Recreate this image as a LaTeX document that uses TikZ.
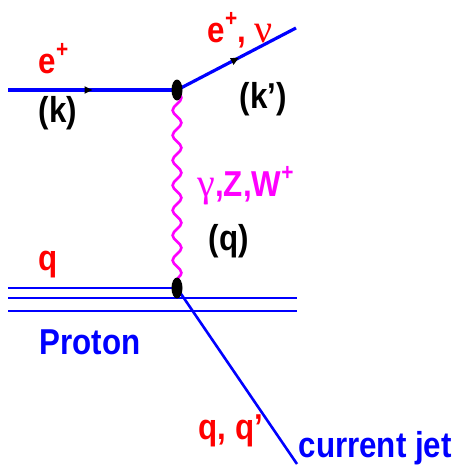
\documentclass[tikz,border=0pt]{standalone}
\usepackage{fontspec}
\setmainfont[FakeStretch=0.87]{Liberation Sans}
\newfontfamily\greekfont{Liberation Serif}
\usetikzlibrary{arrows.meta,decorations.pathmorphing,decorations.markings,shapes.geometric}
\definecolor{bosonpink}{RGB}{255,0,255}
\newcommand{\chargeup}[1]{\raisebox{0.42em}{\fontsize{12}{12}\selectfont #1}}

\begin{document}
\begin{tikzpicture}[x=0.5pt,y=-0.5pt,line width=1.6pt,
  lbl/.style={anchor=base west,inner sep=0pt,font=\fontsize{18}{20}\selectfont\bfseries},
  fermion/.style={draw=blue,postaction={decorate},
    decoration={markings,mark=at position #1 with {\arrow[black]{Triangle[length=4pt,width=3.5pt]}}}},
  boson/.style={draw=bosonpink,line width=1.3pt,decorate,
    decoration={snake,amplitude=2.2pt,segment length=12.5pt}},
  blob/.style={ellipse,fill=black,inner sep=0pt,minimum width=5.5pt,minimum height=10.5pt}]
\useasboundingbox (0,0) rectangle (453,466);
% ---- vertices and line ends ----
\coordinate (ein) at (8,90);
\coordinate (vtop) at (177,90);
\coordinate (eout) at (296,28);
\coordinate (vbot) at (177,288);
\coordinate (jet) at (297,464);
\coordinate (pA) at (8,288);
\coordinate (pB1) at (8,298);
\coordinate (pB2) at (297,298);
\coordinate (pC1) at (8,311);
\coordinate (pC2) at (297,311);
% ---- proton lines ----
\draw[blue,line width=1.3pt] (pA) -- (vbot);
\draw[blue,line width=1.3pt] (pB1) -- (pB2);
\draw[blue,line width=1.3pt] (pC1) -- (pC2);
% ---- lepton lines ----
\path[fermion=0.5] (ein) -- (vtop);
\path[fermion=0.52] (vtop) -- (eout);
% ---- exchanged boson ----
\draw[boson] (vtop) -- (vbot);
% ---- struck quark ----
\draw[blue,line width=1.3pt] (vbot) -- (jet);
% ---- vertex blobs ----
\node[blob] (btop) at (vtop) {};
\node[blob] (bbot) at (vbot) {};
% ---- labels ----
\node[lbl,red] (lein) at (37,73) {e\chargeup{+}};
\node[lbl] (lk) at (37,122) {(k)};
\node[lbl,red] (leout) at (206,42) {e\chargeup{+}, {\greekfont\mdseries\fontsize{20}{20}\selectfont ν}};
\node[lbl] (lkp) at (238,108) {(k’)};
\node[lbl,bosonpink] (lbos) at (196,196) {{\greekfont\mdseries\fontsize{20}{20}\selectfont γ},Z,W\chargeup{+}};
\node[lbl] (lq) at (207,250) {(q)};
\node[lbl,red] (lqin) at (37,270) {q};
\node[lbl,blue] (lprot) at (38,354) {Proton};
\node[lbl,red] (lqout) at (197,439) {q, q’};
\node[lbl,blue] (ljet) at (297,457) {current jet};
\end{tikzpicture}
\end{document}
